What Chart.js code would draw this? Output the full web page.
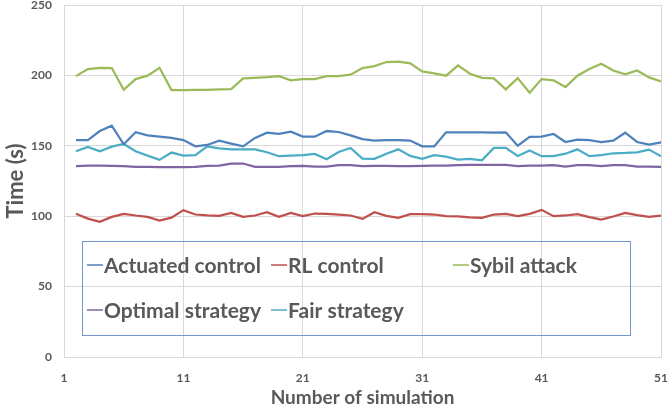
<!DOCTYPE html>
<html>
<head>
<meta charset="utf-8">
<script src="https://cdn.jsdelivr.net/npm/chart.js@4.4.1/dist/chart.umd.min.js"></script>
<style>
  body { margin: 0; background: #fff; }
  #wrap { width: 668px; height: 414px; }
</style>
</head>
<body>
<div id="wrap"><canvas id="chart1"></canvas></div>
<script>
// simulation numbers (x values)
const sims = [2,3,4,5,6,7,8,9,10,11,12,13,14,15,16,17,18,19,20,21,22,23,24,25,26,
  27,28,29,30,31,32,33,34,35,36,37,38,39,40,41,42,43,44,45,46,47,48,49,50,51];

const actuated = [154.1,154.1,160.5,164.3,151.1,159.6,157.4,156.5,155.6,154.1,149.6,150.6,153.7,151.5,149.6,155.6,159.3,
  158.4,160,156.5,156.5,160.5,159.8,157.4,154.8,153.7,154.1,154.1,153.7,149.6,149.6,159.6,159.6,
  159.6,159.6,159.3,159.6,150.1,156.3,156.5,158.4,152.7,154.4,154.1,152.7,153.7,159.3,152.7,150.8,152.5];

const rl = [101.7,98.3,96,99.5,101.7,100.5,99.5,96.9,99,104.3,101.2,100.5,100.2,102.4,99.5,100.5,
  102.8,99.5,102.4,100,101.9,101.7,101.2,100.5,98.1,102.8,100.2,98.8,101.4,101.4,101.2,100,99.8,
  99.2,98.8,101.2,101.7,100,101.7,104.5,100,100.5,101.4,99.3,97.6,99.8,102.4,100.7,99.5,100.5];

const sybil = [199.5,204.5,205.4,205.2,189.8,197.4,199.8,205.4,189.6,189.6,189.7,189.8,190,190.3,197.9,
  198.3,198.8,199.5,196.5,197.4,197.4,199.5,199.5,200.5,205.2,206.6,209.5,209.7,208.5,202.8,201.4,199.8,
  207.1,201.2,198.3,197.9,190.1,198.1,187.7,197.4,196.5,191.7,199.8,204.5,208.3,203.5,200.7,203.5,198.6,195.7];

const optimal = [135.5,135.9,135.9,135.7,135.5,135,135,134.8,134.8,134.8,135,135.7,135.9,137.4,137.4,135,135,
  135,135.5,135.7,135.2,135.2,136.2,136.2,135.5,135.7,135.7,135.5,135.5,135.7,135.9,135.9,136.2,
  136.4,136.4,136.4,136.4,135.5,135.9,135.9,136.2,135.2,136.2,136.2,135.5,136.2,136.2,135.2,135.2,135];

const fair = [146.1,149.2,146.1,149.4,151.3,146.1,143,140,145.2,143,143.3,149.6,148.2,147.5,147.5,147.5,
  145.4,142.6,143,143.3,144.2,140.4,145.6,148.5,140.9,140.7,144.4,147.5,142.8,140.7,143.3,142.3,
  140.2,140.7,139.7,148.5,148.5,142.8,146.6,142.6,142.6,144.4,147.5,142.6,143.3,144.7,144.9,145.4,147.3,142.6];

const seriesNames = ['Actuated control', 'RL control', 'Sybil attack', 'Optimal strategy', 'Fair strategy'];
const seriesColors = ['#4F81BD', '#C0504D', '#9BBB59', '#8064A2', '#4BACC6'];
const seriesValues = [actuated, rl, sybil, optimal, fair];

const FONT = 'Lato, "Noto Sans", sans-serif';
const GREY = '#595959';

function toPoints(vals) {
  return sims.map((x, i) => ({ x: x, y: vals[i] }));
}

// legend box drawn inside the plot area, 3 columns x 2 rows
const boxLegend = {
  id: 'boxLegend',
  afterDatasetsDraw(chart) {
    const c = chart.ctx;
    c.save();
    c.strokeStyle = '#7397CC';
    c.lineWidth = 1;
    c.strokeRect(82.5, 241.5, 548, 94);
    const cols = [87, 271, 453];
    const rows = [265, 310];
    c.font = 'bold 21px ' + FONT;
    c.textBaseline = 'middle';
    c.fillStyle = GREY;
    chart.data.datasets.forEach((ds, i) => {
      const x = cols[i % 3], y = rows[Math.floor(i / 3)];
      c.strokeStyle = ds.borderColor;
      c.lineWidth = 1.5;
      c.beginPath();
      c.moveTo(x, y);
      c.lineTo(x + 16, y);
      c.stroke();
      c.fillText(ds.label, x + 17, y + 1);
    });
    c.restore();
  }
};

// keep the plot box fixed: no extra room for overhanging tick labels
function noOverhang(scale) {
  scale.paddingTop = 0;
  scale.paddingBottom = 0;
  scale.paddingLeft = 0;
  scale.paddingRight = 0;
}

new Chart(document.getElementById('chart1'), {
  type: 'line',
  data: {
    datasets: seriesNames.map((name, i) => ({
      label: name,
      data: toPoints(seriesValues[i]),
      borderColor: seriesColors[i],
      backgroundColor: seriesColors[i],
      borderWidth: 2.25,
      pointRadius: 0,
      tension: 0,
    })),
  },
  options: {
    responsive: true,
    maintainAspectRatio: false,
    animation: false,
    layout: { padding: { left: 0, right: 7, top: 5, bottom: 0 } },
    plugins: {
      legend: { display: false },
      tooltip: { enabled: false },
    },
    scales: {
      x: {
        type: 'linear',
        min: 1,
        max: 51,
        afterFit(scale) { scale.height = 57; noOverhang(scale); },
        ticks: { stepSize: 10, padding: 14, color: GREY, font: { family: FONT, size: 12, weight: 'bold' } },
        grid: { color: '#D9D9D9', drawTicks: false },
        border: { color: '#D9D9D9' },
        title: {
          display: true,
          text: 'Number of simulation',
          color: GREY,
          font: { family: FONT, size: 19, weight: 'bold' },
          padding: { top: 5, bottom: 5 },
        },
      },
      y: {
        min: 0,
        max: 250,
        afterFit(scale) { scale.width = 64; noOverhang(scale); },
        ticks: { stepSize: 50, padding: 12, color: GREY, font: { family: FONT, size: 12, weight: 'bold' } },
        grid: { color: '#D9D9D9', drawTicks: false },
        border: { color: '#D9D9D9' },
        title: {
          display: true,
          text: 'Time (s)',
          color: GREY,
          font: { family: FONT, size: 22, weight: 'bold' },
          padding: { top: 3, bottom: 3 },
        },
      },
    },
  },
  plugins: [boxLegend],
});
</script>
</body>
</html>
